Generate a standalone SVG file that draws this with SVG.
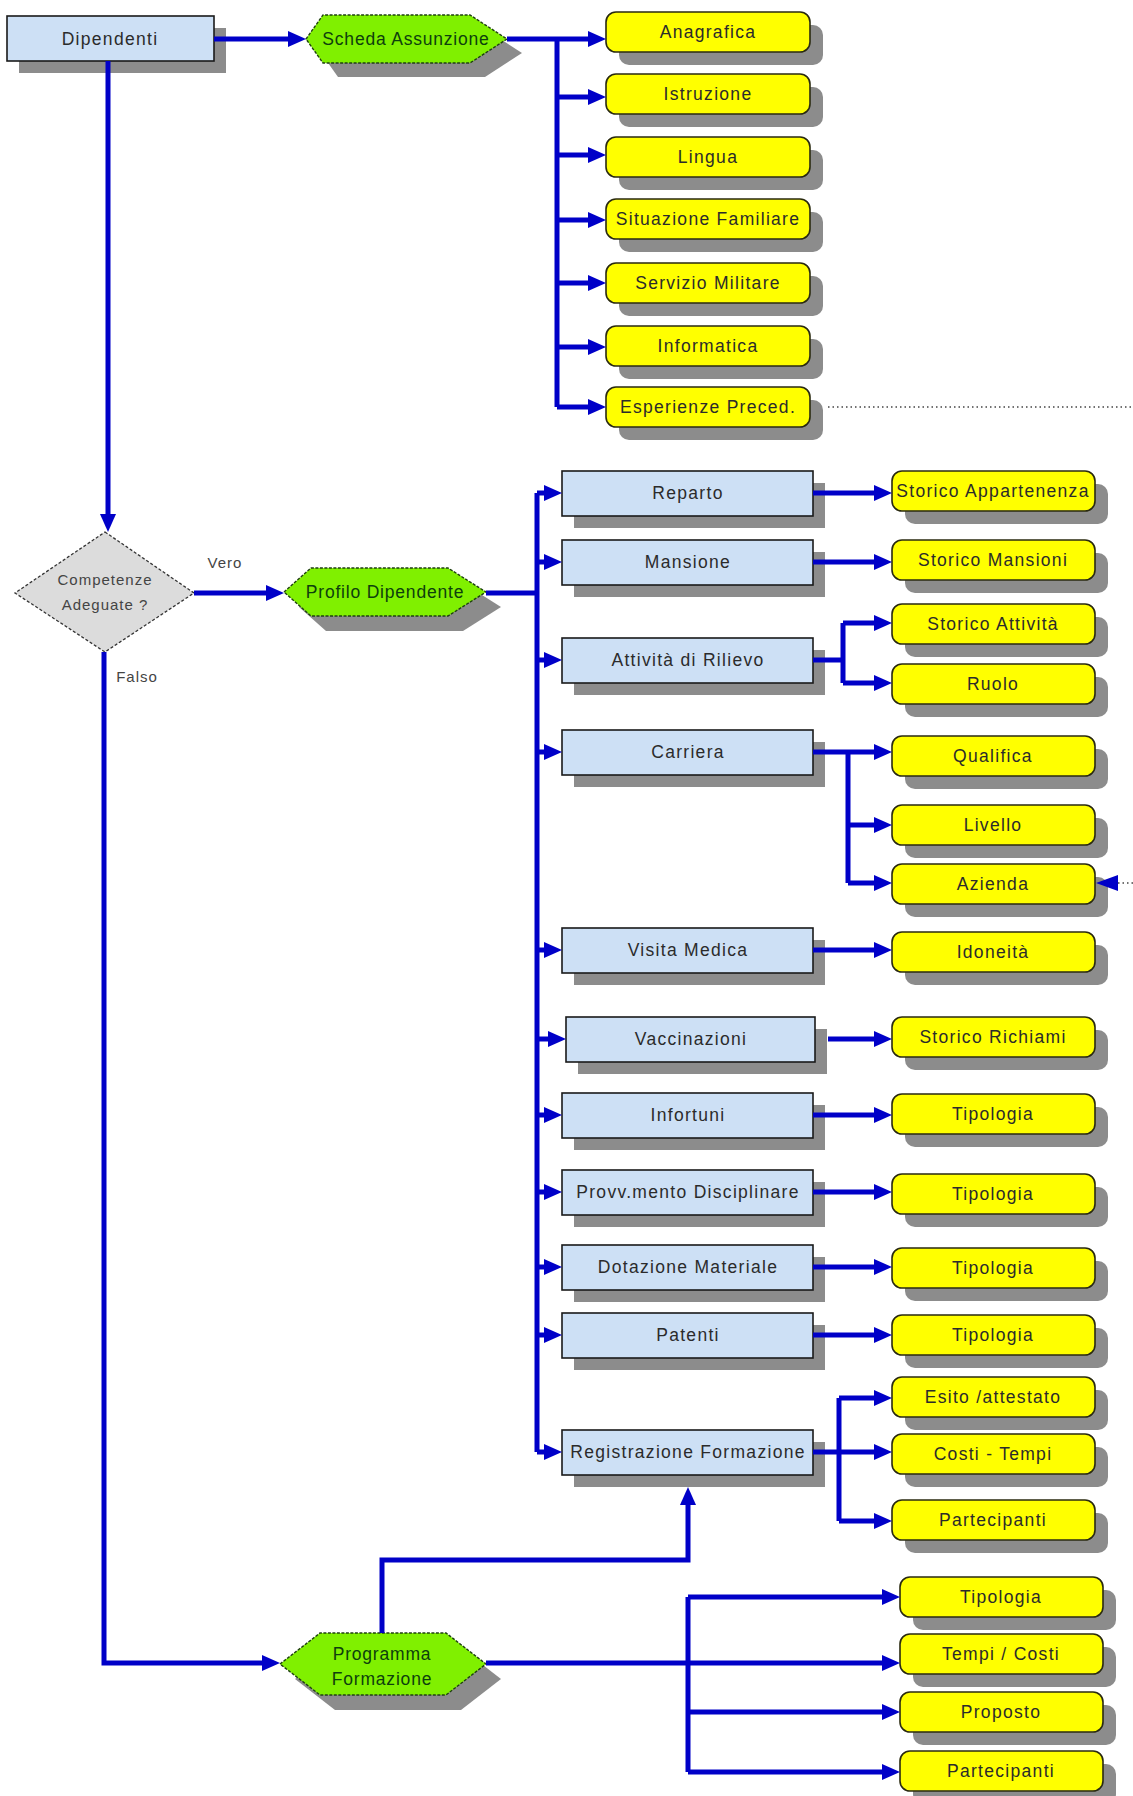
<svg xmlns="http://www.w3.org/2000/svg" width="1133" height="1796" viewBox="0 0 1133 1796">
<style>
.bg{fill:#ffffff}
.sh{fill:#8c8c8c}
.blue{fill:#cde0f5;stroke:#1a1a1a;stroke-width:1.6}
.yel{fill:#ffff00;stroke:#2a2a10;stroke-width:1.6}
.hex{fill:#80f000;stroke:#1f4010;stroke-width:1.4;stroke-dasharray:3 1.5}
.dia{fill:#dcdcdc;stroke:#333;stroke-width:1.3;stroke-dasharray:3 2}
.t{font-family:"Liberation Sans",Arial,sans-serif;font-size:17.5px;letter-spacing:1.3px;fill:#2b2b2b;text-anchor:middle}
.tg{font-family:"Liberation Sans",Arial,sans-serif;font-size:17.5px;letter-spacing:0.8px;fill:#0d400d;text-anchor:middle}
.ts{font-family:"Liberation Sans",Arial,sans-serif;font-size:15px;letter-spacing:1px;fill:#444;text-anchor:middle}
.c{fill:none;stroke:#0000c8;stroke-width:5;marker-end:url(#ah)}
.cn{fill:none;stroke:#0000c8;stroke-width:5}
.dot{fill:none;stroke:#444;stroke-width:1.6;stroke-dasharray:1.5 3}
</style>
<defs>
<marker id="ah" markerUnits="userSpaceOnUse" markerWidth="20" markerHeight="18" refX="8" refY="8" orient="auto">
<path d="M0,0 L18,8 L0,16 z" fill="#0000c8"/>
</marker>
</defs>
<rect class="bg" x="0" y="0" width="1133" height="1796"/>

<g id="dipendenti">
<rect class="sh" x="19" y="28" width="207" height="45"/>
<rect class="blue" x="7" y="16" width="207" height="45"/>
<text class="t" x="110" y="45">Dipendenti</text>
</g>

<g id="scheda-assunzione">
<polygon class="sh" points="321,53 338,29 485,29 522,53 485,77 338,77"/>
<polygon class="hex" points="306,39 323,15 470,15 507,39 470,63 323,63"/>
<text class="tg" x="406" y="45">Scheda Assunzione</text>
</g>

<g id="anagrafica"><rect class="sh" x="619" y="25" width="204" height="40" rx="10"/><rect class="yel" x="606" y="12" width="204" height="40" rx="10"/><text class="t" x="708" y="38">Anagrafica</text></g>
<g id="istruzione"><rect class="sh" x="619" y="87" width="204" height="40" rx="10"/><rect class="yel" x="606" y="74" width="204" height="40" rx="10"/><text class="t" x="708" y="100">Istruzione</text></g>
<g id="lingua"><rect class="sh" x="619" y="150" width="204" height="40" rx="10"/><rect class="yel" x="606" y="137" width="204" height="40" rx="10"/><text class="t" x="708" y="163">Lingua</text></g>
<g id="situazione-familiare"><rect class="sh" x="619" y="212" width="204" height="40" rx="10"/><rect class="yel" x="606" y="199" width="204" height="40" rx="10"/><text class="t" x="708" y="225">Situazione Familiare</text></g>
<g id="servizio-militare"><rect class="sh" x="619" y="276" width="204" height="40" rx="10"/><rect class="yel" x="606" y="263" width="204" height="40" rx="10"/><text class="t" x="708" y="289">Servizio Militare</text></g>
<g id="informatica"><rect class="sh" x="619" y="339" width="204" height="40" rx="10"/><rect class="yel" x="606" y="326" width="204" height="40" rx="10"/><text class="t" x="708" y="352">Informatica</text></g>
<g id="esperienze-preced"><rect class="sh" x="619" y="400" width="204" height="40" rx="10"/><rect class="yel" x="606" y="387" width="204" height="40" rx="10"/><text class="t" x="708" y="413">Esperienze Preced.</text></g>

<g id="competenze-adeguate">
<polygon class="dia" points="105,532 194,593 105,652 15,593"/>
<text class="ts" x="105" y="585">Competenze</text>
<text class="ts" x="105" y="610">Adeguate ?</text>
</g>
<g id="label-vero"><text class="ts" x="225" y="568">Vero</text></g>
<g id="label-falso"><text class="ts" x="137" y="682">Falso</text></g>

<g id="profilo-dipendente">
<polygon class="sh" points="299,607 326,583 463,583 501,607 463,631 326,631"/>
<polygon class="hex" points="284,592 311,568 448,568 486,592 448,616 311,616"/>
<text class="tg" x="385" y="598">Profilo Dipendente</text>
</g>

<g id="reparto"><rect class="sh" x="574" y="483" width="251" height="45"/><rect class="blue" x="562" y="471" width="251" height="45"/><text class="t" x="688" y="499">Reparto</text></g>
<g id="mansione"><rect class="sh" x="574" y="552" width="251" height="45"/><rect class="blue" x="562" y="540" width="251" height="45"/><text class="t" x="688" y="568">Mansione</text></g>
<g id="attivita-rilievo"><rect class="sh" x="574" y="650" width="251" height="45"/><rect class="blue" x="562" y="638" width="251" height="45"/><text class="t" x="688" y="666">Attività di Rilievo</text></g>
<g id="carriera"><rect class="sh" x="574" y="742" width="251" height="45"/><rect class="blue" x="562" y="730" width="251" height="45"/><text class="t" x="688" y="758">Carriera</text></g>
<g id="visita-medica"><rect class="sh" x="574" y="940" width="251" height="45"/><rect class="blue" x="562" y="928" width="251" height="45"/><text class="t" x="688" y="956">Visita Medica</text></g>
<g id="vaccinazioni"><rect class="sh" x="578" y="1029" width="249" height="45"/><rect class="blue" x="566" y="1017" width="249" height="45"/><text class="t" x="691" y="1045">Vaccinazioni</text></g>
<g id="infortuni"><rect class="sh" x="574" y="1105" width="251" height="45"/><rect class="blue" x="562" y="1093" width="251" height="45"/><text class="t" x="688" y="1121">Infortuni</text></g>
<g id="provvedimento-disciplinare"><rect class="sh" x="574" y="1182" width="251" height="45"/><rect class="blue" x="562" y="1170" width="251" height="45"/><text class="t" x="688" y="1198">Provv.mento Disciplinare</text></g>
<g id="dotazione-materiale"><rect class="sh" x="574" y="1257" width="251" height="45"/><rect class="blue" x="562" y="1245" width="251" height="45"/><text class="t" x="688" y="1273">Dotazione Materiale</text></g>
<g id="patenti"><rect class="sh" x="574" y="1325" width="251" height="45"/><rect class="blue" x="562" y="1313" width="251" height="45"/><text class="t" x="688" y="1341">Patenti</text></g>
<g id="registrazione-formazione"><rect class="sh" x="574" y="1442" width="251" height="45"/><rect class="blue" x="562" y="1430" width="251" height="45"/><text class="t" x="688" y="1458">Registrazione Formazione</text></g>

<g id="storico-appartenenza"><rect class="sh" x="905" y="484" width="203" height="40" rx="10"/><rect class="yel" x="892" y="471" width="203" height="40" rx="10"/><text class="t" x="993" y="497">Storico Appartenenza</text></g>
<g id="storico-mansioni"><rect class="sh" x="905" y="553" width="203" height="40" rx="10"/><rect class="yel" x="892" y="540" width="203" height="40" rx="10"/><text class="t" x="993" y="566">Storico Mansioni</text></g>
<g id="storico-attivita"><rect class="sh" x="905" y="617" width="203" height="40" rx="10"/><rect class="yel" x="892" y="604" width="203" height="40" rx="10"/><text class="t" x="993" y="630">Storico Attività</text></g>
<g id="ruolo"><rect class="sh" x="905" y="677" width="203" height="40" rx="10"/><rect class="yel" x="892" y="664" width="203" height="40" rx="10"/><text class="t" x="993" y="690">Ruolo</text></g>
<g id="qualifica"><rect class="sh" x="905" y="749" width="203" height="40" rx="10"/><rect class="yel" x="892" y="736" width="203" height="40" rx="10"/><text class="t" x="993" y="762">Qualifica</text></g>
<g id="livello"><rect class="sh" x="905" y="818" width="203" height="40" rx="10"/><rect class="yel" x="892" y="805" width="203" height="40" rx="10"/><text class="t" x="993" y="831">Livello</text></g>
<g id="azienda"><rect class="sh" x="905" y="877" width="203" height="40" rx="10"/><rect class="yel" x="892" y="864" width="203" height="40" rx="10"/><text class="t" x="993" y="890">Azienda</text></g>
<g id="idoneita"><rect class="sh" x="905" y="945" width="203" height="40" rx="10"/><rect class="yel" x="892" y="932" width="203" height="40" rx="10"/><text class="t" x="993" y="958">Idoneità</text></g>
<g id="storico-richiami"><rect class="sh" x="905" y="1030" width="203" height="40" rx="10"/><rect class="yel" x="892" y="1017" width="203" height="40" rx="10"/><text class="t" x="993" y="1043">Storico Richiami</text></g>
<g id="tipologia-infortuni"><rect class="sh" x="905" y="1107" width="203" height="40" rx="10"/><rect class="yel" x="892" y="1094" width="203" height="40" rx="10"/><text class="t" x="993" y="1120">Tipologia</text></g>
<g id="tipologia-provv"><rect class="sh" x="905" y="1187" width="203" height="40" rx="10"/><rect class="yel" x="892" y="1174" width="203" height="40" rx="10"/><text class="t" x="993" y="1200">Tipologia</text></g>
<g id="tipologia-dotazione"><rect class="sh" x="905" y="1261" width="203" height="40" rx="10"/><rect class="yel" x="892" y="1248" width="203" height="40" rx="10"/><text class="t" x="993" y="1274">Tipologia</text></g>
<g id="tipologia-patenti"><rect class="sh" x="905" y="1328" width="203" height="40" rx="10"/><rect class="yel" x="892" y="1315" width="203" height="40" rx="10"/><text class="t" x="993" y="1341">Tipologia</text></g>
<g id="esito-attestato"><rect class="sh" x="905" y="1390" width="203" height="40" rx="10"/><rect class="yel" x="892" y="1377" width="203" height="40" rx="10"/><text class="t" x="993" y="1403">Esito /attestato</text></g>
<g id="costi-tempi"><rect class="sh" x="905" y="1447" width="203" height="40" rx="10"/><rect class="yel" x="892" y="1434" width="203" height="40" rx="10"/><text class="t" x="993" y="1460">Costi - Tempi</text></g>
<g id="partecipanti-reg"><rect class="sh" x="905" y="1513" width="203" height="40" rx="10"/><rect class="yel" x="892" y="1500" width="203" height="40" rx="10"/><text class="t" x="993" y="1526">Partecipanti</text></g>

<g id="programma-formazione">
<polygon class="sh" points="295,1679 335,1648 461,1648 501,1679 461,1710 335,1710"/>
<polygon class="hex" points="280,1664 320,1633 446,1633 486,1664 446,1695 320,1695"/>
<text class="tg" x="382" y="1660">Programma</text>
<text class="tg" x="382" y="1685">Formazione</text>
</g>

<g id="tipologia-prog"><rect class="sh" x="913" y="1590" width="203" height="40" rx="10"/><rect class="yel" x="900" y="1577" width="203" height="40" rx="10"/><text class="t" x="1001" y="1603">Tipologia</text></g>
<g id="tempi-costi"><rect class="sh" x="913" y="1647" width="203" height="40" rx="10"/><rect class="yel" x="900" y="1634" width="203" height="40" rx="10"/><text class="t" x="1001" y="1660">Tempi / Costi</text></g>
<g id="proposto"><rect class="sh" x="913" y="1705" width="203" height="40" rx="10"/><rect class="yel" x="900" y="1692" width="203" height="40" rx="10"/><text class="t" x="1001" y="1718">Proposto</text></g>
<g id="partecipanti-prog"><rect class="sh" x="913" y="1764" width="203" height="40" rx="10"/><rect class="yel" x="900" y="1751" width="203" height="40" rx="10"/><text class="t" x="1001" y="1777">Partecipanti</text></g>

<g id="connectors">
<path class="c" d="M214,39 H296"/>
<path class="c" d="M507,39 H596"/>
<path class="cn" d="M557,39 V407"/>
<path class="c" d="M557,97 H596"/>
<path class="c" d="M557,155 H596"/>
<path class="c" d="M557,220 H596"/>
<path class="c" d="M557,283 H596"/>
<path class="c" d="M557,347 H596"/>
<path class="c" d="M557,407 H596"/>
<path class="dot" d="M828,407 H1133"/>
<path class="c" d="M108,61 V522"/>
<path class="c" d="M194,593 H274"/>
<path class="cn" d="M486,593 H537"/>
<path class="cn" d="M537,493 V1452"/>
<path class="c" d="M537,493 H552"/>
<path class="c" d="M537,562 H552"/>
<path class="c" d="M537,660 H552"/>
<path class="c" d="M537,752 H552"/>
<path class="c" d="M537,950 H552"/>
<path class="c" d="M537,1039 H556"/>
<path class="c" d="M537,1115 H552"/>
<path class="c" d="M537,1192 H552"/>
<path class="c" d="M537,1267 H552"/>
<path class="c" d="M537,1335 H552"/>
<path class="c" d="M537,1452 H552"/>
<path class="c" d="M813,493 H882"/>
<path class="c" d="M813,562 H882"/>
<path class="cn" d="M813,660 H843 M843,623 V683"/>
<path class="c" d="M843,623 H882"/>
<path class="c" d="M843,683 H882"/>
<path class="c" d="M813,752 H882"/>
<path class="cn" d="M848,752 V883"/>
<path class="c" d="M848,825 H882"/>
<path class="c" d="M848,883 H882"/>
<path class="dot" d="M1133,883 H1118"/>
<polygon points="1118,875 1096,883 1118,891" fill="#0000c8"/>
<path class="c" d="M813,950 H882"/>
<path class="c" d="M828,1039 H882"/>
<path class="c" d="M813,1115 H882"/>
<path class="c" d="M813,1192 H882"/>
<path class="c" d="M813,1267 H882"/>
<path class="c" d="M813,1335 H882"/>
<path class="c" d="M813,1452 H882"/>
<path class="cn" d="M839,1398 V1521"/>
<path class="c" d="M839,1398 H882"/>
<path class="c" d="M839,1521 H882"/>
<path class="c" d="M104,652 V1663 H270"/>
<path class="c" d="M382,1633 V1560 H688 V1497"/>
<path class="c" d="M486,1663 H890"/>
<path class="cn" d="M688,1597 V1772"/>
<path class="c" d="M688,1597 H890"/>
<path class="c" d="M688,1712 H890"/>
<path class="c" d="M688,1772 H890"/>
</g>
</svg>
